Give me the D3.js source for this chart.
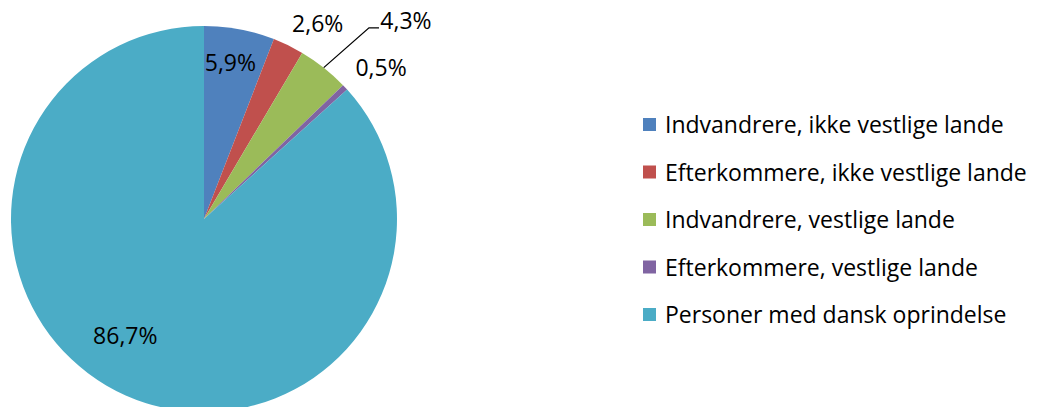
<!DOCTYPE html>
<html>
<head>
<meta charset="utf-8">
<script src="https://cdn.jsdelivr.net/npm/d3@7"></script>
<style>
  body { margin: 0; background: #fff; }
  text { font-family: "Open Sans", sans-serif; fill: #000; }
</style>
</head>
<body>
<div class="chart"></div>
<script>
var categories = [
  "Indvandrere, ikke vestlige lande",
  "Efterkommere, ikke vestlige lande",
  "Indvandrere, vestlige lande",
  "Efterkommere, vestlige lande",
  "Personer med dansk oprindelse"
];
var values = [5.9, 2.6, 4.3, 0.5, 86.7];
var labels = ["5,9%", "2,6%", "4,3%", "0,5%", "86,7%"];
var colors = ["#4F81BD", "#C0504D", "#9BBB59", "#8064A2", "#4BACC6"];

// label placement (radius, angle nudge in degrees) - roughly as in the original
var labelRadius = [158, 226, 283, 233, 141];
var labelNudge = [-1, 4.3, 7.2, 2.5, 10];

var width = 1042,
  height = 407,
  cx = 204,
  cy = 219,
  r = 193,
  fontSize = 23;

var svg = d3.select(".chart").append("svg")
  .attr("width", width)
  .attr("height", height);

var pie = d3.pie().sort(null).value(function(d) { return d; });
var arcs = pie(values);
var arc = d3.arc().innerRadius(0).outerRadius(r);

var g = svg.append("g").attr("transform", "translate(" + cx + "," + cy + ")");

g.selectAll("path.slice")
  .data(arcs)
  .enter().append("path")
  .attr("class", "slice")
  .attr("d", arc)
  .attr("fill", function(d, i) { return colors[i]; });

function polar(rad, ang) {
  return [rad * Math.sin(ang), -rad * Math.cos(ang)];
}

arcs.forEach(function(d, i) {
  var mid = (d.startAngle + d.endAngle) / 2 + labelNudge[i] * Math.PI / 180;
  var p = polar(labelRadius[i], mid);
  g.append("text")
    .attr("x", p[0])
    .attr("y", p[1])
    .attr("text-anchor", "middle")
    .attr("dy", "0.35em")
    .style("font-size", fontSize + "px")
    .text(labels[i]);

  // leader line for the 4,3% label
  if (i == 2) {
    var a0 = (d.startAngle + d.endAngle) / 2;
    var p0 = polar(r, a0);
    var p1 = [p[0] - 37, p[1] + 7];
    g.append("polyline")
      .attr("points", [p0, p1, [p1[0] + 10, p1[1]]].map(function(q) { return q.join(","); }).join(" "))
      .attr("fill", "none")
      .attr("stroke", "#000")
      .attr("stroke-width", 1.3);
  }
});

// legend
var legend = svg.append("g").attr("transform", "translate(643,125)");
var rows = legend.selectAll("g.row")
  .data(categories)
  .enter().append("g")
  .attr("class", "row")
  .attr("transform", function(d, i) { return "translate(0," + (i * 47.5) + ")"; });

rows.append("rect")
  .attr("x", 0)
  .attr("y", -7)
  .attr("width", 13)
  .attr("height", 13)
  .attr("fill", function(d, i) { return colors[i]; });

rows.append("text")
  .attr("x", 22)
  .attr("y", 0)
  .attr("dy", "0.35em")
  .style("font-size", fontSize + "px")
  .text(function(d) { return d; });
</script>
</body>
</html>
